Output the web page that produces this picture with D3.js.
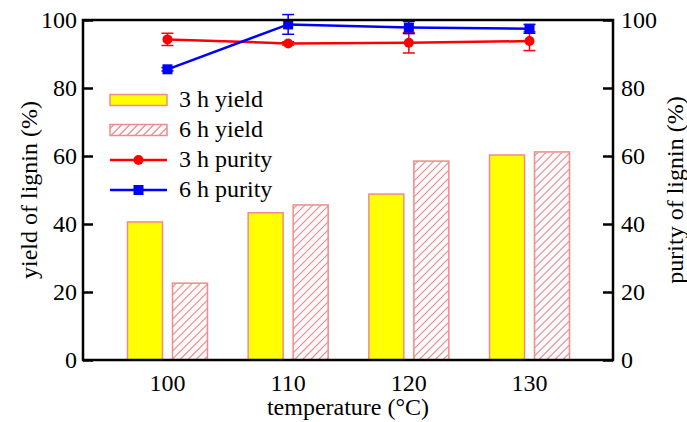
<!DOCTYPE html>
<html>
<head>
<meta charset="utf-8">
<script src="https://cdn.jsdelivr.net/npm/d3@7"></script>
<style>
  html, body { margin: 0; padding: 0; background: #fff; }
  svg { display: block; }
  #chart text { font-family: "Liberation Serif", "Times New Roman", serif !important; }
</style>
</head>
<body>
<svg id="chart" width="687" height="422"></svg>
<script>
// Temperatures (°C)
const temperatures = [100, 110, 120, 130];
// Lignin yield (%)
const yield3h = [40.6, 43.3, 48.8, 60.3];
const yield6h = [22.6, 45.6, 58.5, 61.2];
// Lignin purity (%) with error bars
const purity3h = [94.3, 93.1, 93.3, 93.8];
const purity3hErr = [1.8, 0.5, 3.0, 2.8];
const purity6h = [85.5, 98.7, 97.8, 97.4];
const purity6hErr = [0.5, 2.9, 1.8, 1.3];
// Axis ticks
const yTicks = [0, 20, 40, 60, 80, 100];
const legendLabels = ["3 h yield", "6 h yield", "3 h purity", "6 h purity"];

const FONT = "Liberation Serif";
const FS = 24;

const svg = d3.select("#chart");
const m = { left: 83, right: 613, top: 20, bottom: 360 };

const x = d3.scaleLinear().domain([93, 137]).range([m.left, m.right + 1]);
const yL = d3.scaleLinear().domain([0, 100]).range([m.bottom, m.top]);
const yR = d3.scaleLinear().domain([0, 100]).range([m.bottom, m.top]);

const barW = 35, barOff = 22.5;
const barStroke = "#f28a8a";
const hatchColor = "#ec8c8c";

function label(sel) {
  return sel.attr("font-family", FONT)
    .style("font-family", '"Liberation Serif", serif', "important")
    .attr("font-size", FS);
}

// "/" hatching inside a rectangle, spaced 8px along x
function hatchRect(g, x0, y0, w, h) {
  const x1 = x0 + w, y1 = y0 + h, step = 8;
  const segs = [];
  for (let c = x0 + y0 + step / 2; c < x1 + y1; c += step) {
    const xa = Math.max(x0, c - y1), xb = Math.min(x1, c - y0);
    if (xb > xa) segs.push([xa, c - xa, xb, c - xb]);
  }
  g.append("rect").attr("x", x0).attr("y", y0).attr("width", w).attr("height", h)
    .attr("fill", "#fcfbfd");
  g.append("path")
    .attr("d", segs.map((s) => `M${s[0]},${s[1]}L${s[2]},${s[3]}`).join(""))
    .attr("stroke", hatchColor).attr("stroke-width", 1.1).attr("fill", "none");
  g.append("rect").attr("x", x0).attr("y", y0).attr("width", w).attr("height", h)
    .attr("fill", "none").attr("stroke", barStroke).attr("stroke-width", 1.5);
}

// 3 h yield bars
svg.append("g").selectAll("rect").data(temperatures).join("rect")
  .attr("x", (d) => x(d) - barOff - barW / 2)
  .attr("y", (d, i) => yL(yield3h[i]))
  .attr("width", barW)
  .attr("height", (d, i) => yL(0) - yL(yield3h[i]))
  .attr("fill", "#ffff00").attr("stroke", barStroke).attr("stroke-width", 1.5);

// 6 h yield bars (hatched)
const hg = svg.append("g");
temperatures.forEach((t, i) => {
  hatchRect(hg, x(t) + barOff - barW / 2, yL(yield6h[i]), barW, yL(0) - yL(yield6h[i]));
});

// purity lines with error bars
function drawSeries(vals, errs, color, marker) {
  const g = svg.append("g");
  const line = d3.line().x((d) => x(d[0])).y((d) => yR(d[1]));
  g.append("path")
    .datum(temperatures.map((t, i) => [t, vals[i]]))
    .attr("d", line).attr("fill", "none")
    .attr("stroke", color).attr("stroke-width", 2.5);
  temperatures.forEach((t, i) => {
    const cx = x(t), lo = yR(vals[i] - errs[i]), hi = yR(vals[i] + errs[i]);
    g.append("line").attr("x1", cx).attr("x2", cx).attr("y1", lo).attr("y2", hi)
      .attr("stroke", color).attr("stroke-width", 1.5);
    [lo, hi].forEach((yy) => g.append("line")
      .attr("x1", cx - 6).attr("x2", cx + 6).attr("y1", yy).attr("y2", yy)
      .attr("stroke", color).attr("stroke-width", 1.5));
    if (marker === "circle") {
      g.append("circle").attr("cx", cx).attr("cy", yR(vals[i])).attr("r", 5).attr("fill", color);
    } else {
      g.append("rect").attr("x", cx - 5).attr("y", yR(vals[i]) - 5)
        .attr("width", 10).attr("height", 10).attr("fill", color);
    }
  });
}
drawSeries(purity3h, purity3hErr, "#ff0000", "circle");
drawSeries(purity6h, purity6hErr, "#0000ff", "square");

// frame
svg.append("rect").attr("x", m.left).attr("y", m.top)
  .attr("width", m.right - m.left).attr("height", m.bottom - m.top)
  .attr("fill", "none").attr("stroke", "#000").attr("stroke-width", 2.5);

// inward tick marks on both value axes
const leftAxis = d3.axisRight(yL).tickValues(yTicks).tickSize(10).tickFormat("");
svg.append("g").attr("transform", `translate(${m.left},0)`).call(leftAxis)
  .call((g) => g.select(".domain").remove())
  .call((g) => g.selectAll("text").remove())
  .call((g) => g.selectAll("line").attr("stroke", "#000").attr("stroke-width", 2.5));
const rightAxis = d3.axisLeft(yR).tickValues(yTicks).tickSize(10).tickFormat("");
svg.append("g").attr("transform", `translate(${m.right},0)`).call(rightAxis)
  .call((g) => g.select(".domain").remove())
  .call((g) => g.selectAll("text").remove())
  .call((g) => g.selectAll("line").attr("stroke", "#000").attr("stroke-width", 2.5));

// tick labels
svg.append("g").selectAll("text").data(yTicks).join("text")
  .attr("x", m.left - 6).attr("y", (d) => yL(d) + 8)
  .attr("text-anchor", "end").call(label).text((d) => d);
svg.append("g").selectAll("text").data(yTicks).join("text")
  .attr("x", m.right + 8).attr("y", (d) => yR(d) + 8)
  .attr("text-anchor", "start").call(label).text((d) => d);
svg.append("g").selectAll("text").data(temperatures).join("text")
  .attr("x", (d) => x(d)).attr("y", 391)
  .attr("text-anchor", "middle").call(label).text((d) => d);

// axis titles
svg.append("text").attr("x", 348).attr("y", 415).attr("text-anchor", "middle")
  .call(label).text("temperature (°C)");
svg.append("text").attr("transform", "translate(37,190) rotate(-90)")
  .attr("text-anchor", "middle").call(label).text("yield of lignin (%)");
svg.append("text").attr("transform", "translate(683,190) rotate(-90)")
  .attr("text-anchor", "middle").call(label).text("purity of lignin (%)");

// legend
const lg = svg.append("g");
const lx = 110, lw = 57, ly0 = 100, ldy = 30;
legendLabels.forEach((lab, i) => {
  const cy = ly0 + i * ldy;
  if (i === 0) {
    lg.append("rect").attr("x", lx).attr("y", cy - 5.5).attr("width", lw).attr("height", 11)
      .attr("fill", "#ffff00").attr("stroke", barStroke).attr("stroke-width", 1.5);
  } else if (i === 1) {
    hatchRect(lg, lx, cy - 5.5, lw, 11);
  } else {
    const col = i === 2 ? "#ff0000" : "#0000ff";
    lg.append("line").attr("x1", lx).attr("x2", lx + lw).attr("y1", cy).attr("y2", cy)
      .attr("stroke", col).attr("stroke-width", 2.5);
    if (i === 2) lg.append("circle").attr("cx", lx + lw / 2).attr("cy", cy).attr("r", 5).attr("fill", col);
    else lg.append("rect").attr("x", lx + lw / 2 - 5).attr("y", cy - 5).attr("width", 10).attr("height", 10).attr("fill", col);
  }
  lg.append("text").attr("x", lx + lw + 12).attr("y", cy + 7)
    .call(label).text(lab);
});
</script>
</body>
</html>
